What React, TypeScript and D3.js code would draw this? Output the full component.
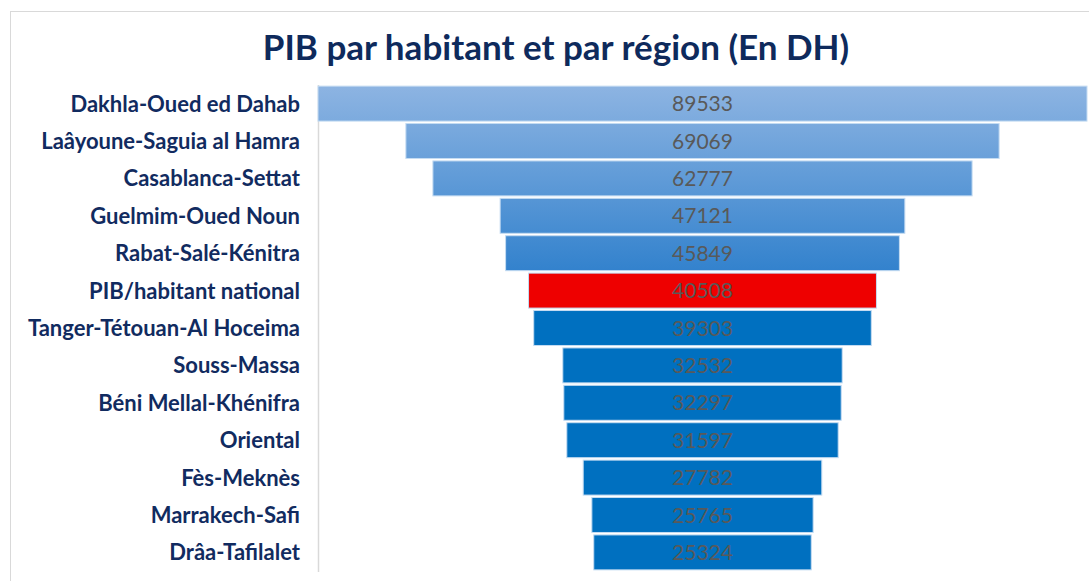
import React from "react";
import * as d3 from "d3";

const categories = [
  "Dakhla-Oued ed Dahab",
  "Laâyoune-Saguia al Hamra",
  "Casablanca-Settat",
  "Guelmim-Oued Noun",
  "Rabat-Salé-Kénitra",
  "PIB/habitant national",
  "Tanger-Tétouan-Al Hoceima",
  "Souss-Massa",
  "Béni Mellal-Khénifra",
  "Oriental",
  "Fès-Meknès",
  "Marrakech-Safi",
  "Drâa-Tafilalet",
];
const values = [89533, 69069, 62777, 47121, 45849, 40508, 39303, 32532, 32297, 31597, 27782, 25765, 25324];
const title = "PIB par habitant et par région (En DH)";

const W = 1089;
const H = 581;
const plotLeft = 318;
const plotRight = 1087;
const plotTop = 85;
const plotBottom = 571;

export default function App() {
  const y = d3.scaleBand<string>().domain(categories).range([plotTop, plotBottom]).paddingInner(0.065).paddingOuter(0.03);
  const w = d3.scaleLinear().domain([0, d3.max(values) as number]).range([0, plotRight - plotLeft]);
  const cx = (plotLeft + plotRight) / 2;
  const gradTop = y(categories[0]) as number;
  const gradBottom = (y(categories[4]) as number) + y.bandwidth();

  const fillFor = (i: number) => {
    if (categories[i] === "PIB/habitant national") return "#EE0000";
    if (i < 5) return "url(#topGrad)";
    return "#0070C0";
  };

  return (
    <svg width={W} height={H} style={{ position: "absolute", left: 0, top: 0, background: "#fff" }}>
      <defs>
        <linearGradient id="topGrad" gradientUnits="userSpaceOnUse" x1={0} y1={gradTop} x2={0} y2={gradBottom}>
          <stop offset="0" stopColor="#8DB4E2" />
          <stop offset="1" stopColor="#3382CD" />
        </linearGradient>
      </defs>
      <rect x={10.5} y={11.5} width={W} height={H} fill="#fff" stroke="#d9d9d9" strokeWidth={1} />
      <text
        x={556}
        y={60}
        textAnchor="middle"
        fontFamily="Lato"
        fontWeight="bold"
        fontSize={35}
        fill="#0E2A5C"
      >
        {title}
      </text>
      <line x1={318.5} x2={318.5} y1={plotTop} y2={572} stroke="#d9d9d9" strokeWidth={1.5} />
      {categories.map((c, i) => {
        const bw = w(values[i]);
        const by = y(c) as number;
        return (
          <g key={c}>
            <rect
              x={cx - bw / 2}
              y={by}
              width={bw}
              height={y.bandwidth()}
              fill={fillFor(i)}
              stroke="#C5DCF2"
              strokeWidth={1}
            />
            <text
              x={cx}
              y={by + y.bandwidth() / 2}
              dy="0.36em"
              textAnchor="middle"
              fontFamily="Lato"
              fontSize={21}
              fill="#595959"
            >
              {values[i]}
            </text>
            <text
              x={300}
              y={by + y.bandwidth() / 2}
              dy="0.36em"
              textAnchor="end"
              fontFamily="Lato"
              fontWeight="bold"
              fontSize={22}
              fill="#112B60"
            >
              {c}
            </text>
          </g>
        );
      })}
    </svg>
  );
}
